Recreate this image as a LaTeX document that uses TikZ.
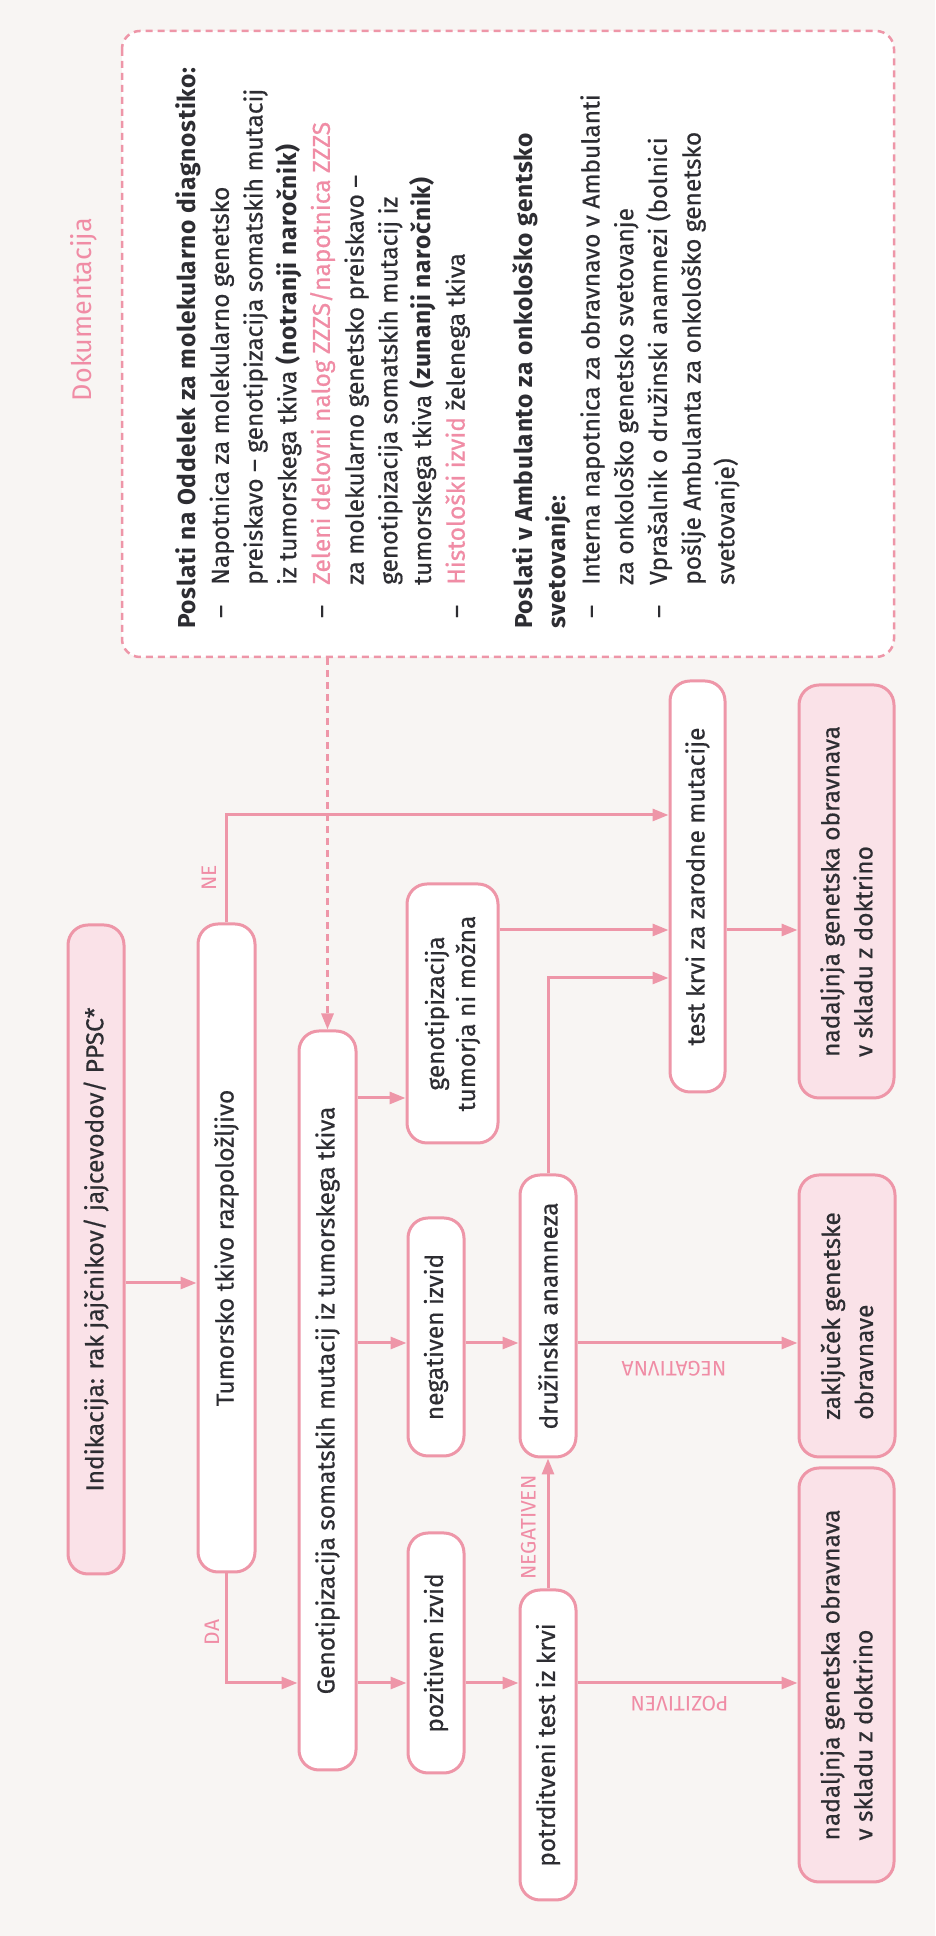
\documentclass[tikz,border=0pt]{standalone}
\usepackage{fontspec}
\setmainfont{Fira Sans}[UprightFeatures={FakeBold=0.6},
    BoldFeatures={LetterSpace=3}]
\newfontfamily\tanka{Fira Sans}
\usepackage{tikz}
\usetikzlibrary{calc,arrows.meta}

\definecolor{rozalinija}{RGB}{238,150,168}
\definecolor{rozapolnilo}{RGB}{250,226,232}
\definecolor{ozadje}{RGB}{248,245,243}
\definecolor{temno}{RGB}{45,45,50}
\definecolor{rozabesedilo}{RGB}{240,140,165}

\newcommand{\crtica}{\makebox[44pt][l]{\hspace*{11pt}--}}
\newcommand{\zamik}{\hspace*{44pt}}

\begin{document}
\begin{tikzpicture}[x=1pt, y=-1pt, rotate=90, transform shape,
        box/.style={draw=rozalinija, line width=\linethick, fill=white,
            rounded corners=20pt, inner sep=0pt, align=center, text=temno,
            font=\fontsize{24.5}{31}\selectfont},
        endbox/.style={box, fill=rozapolnilo, align=left,
            font=\fontsize{24.5}{33}\selectfont},
        docbox/.style={draw=rozalinija, line width=2.5pt, fill=white,
            dash pattern=on 7pt off 5pt, rounded corners=18pt},
        arr/.style={draw=rozalinija, line width=\linethick,
            -{Triangle[length=16pt, width=12pt]}},
        lbl/.style={text=rozabesedilo, inner sep=0pt,
            font=\tanka\fontsize{21}{21}\selectfont}]

        \def\linethick{3pt}

        \fill[ozadje] (0,0) rectangle (1936,935);
        \useasboundingbox (0,0) rectangle (1936,935);

        % levels of the connectors
        \coordinate (lInd) at (653, 0);
        \coordinate (lNe) at (1121, 0);
        \coordinate (lPoz) at (253, 0);
        \coordinate (lNeg) at (593, 0);
        \coordinate (lGen) at (838, 0);
        \coordinate (lKrvi) at (1006, 0);
        \coordinate (lDruz) at (958, 0);

        % flow boxes
        \node[box, fill=rozapolnilo, minimum width=649pt, minimum height=56pt] (ind) at (686.5, 96) {Indikacija: rak jajčnikov/ jajcevodov/ PPSC*};
        \node[box, minimum width=648pt, minimum height=57pt] (tum) at (688, 226.5) {Tumorsko tkivo razpoložljivo};
        \node[box, minimum width=739pt, minimum height=57pt] (gen) at (535.5, 327.5) {Genotipizacija somatskih mutacij iz tumorskega tkiva};
        \node[box, minimum width=240pt, minimum height=56pt] (poz) at (283, 436) {pozitiven izvid};
        \node[box, minimum width=238pt, minimum height=56pt] (neg) at (599, 436) {negativen izvid};
        \node[box, minimum width=259pt, minimum height=91pt] (nimozna) at (922.5, 452.5) {genotipizacija\\tumorja ni možna};
        \node[box, minimum width=310pt, minimum height=56pt] (potr) at (191, 548) {potrditveni test iz krvi};
        \node[box, minimum width=282pt, minimum height=56pt] (druz) at (620, 548) {družinska anamneza};
        \node[box, minimum width=411pt, minimum height=55pt] (krvi) at (1049.5, 697.5) {test krvi za zarodne mutacije};
        \node[endbox, minimum width=414pt, minimum height=95pt] (nad1) at (261, 846.5) {nadaljnja genetska obravnava\\v skladu z doktrino};
        \node[endbox, minimum width=282pt, minimum height=96pt] (zakl) at (620, 847) {zaključek genetske\\obravnave};
        \node[endbox, minimum width=413pt, minimum height=95pt] (nad2) at (1044.5, 846.5) {nadaljnja genetska obravnava\\v skladu z doktrino};

        % documentation
        \node[text=rozabesedilo, font=\tanka\fontsize{27}{27}\selectfont] (dokum) at (1626.5, 83.5) {Dokumentacija};
        \node[docbox, minimum width=626pt, minimum height=772pt] (doc) at (1592, 508) {};
        \node[anchor=north west, align=left, inner sep=0pt, text=temno,
            font=\fontsize{24.5}{33.7}\selectfont] (doctxt) at (1307, 175) {%
            \textbf{Poslati na Oddelek za molekularno diagnostiko:}\\
            \crtica Napotnica za molekularno genetsko\\
            \zamik preiskavo -- genotipizacija somatskih mutacij\\
            \zamik iz tumorskega tkiva \textbf{(notranji naročnik)}\\
            \crtica \textcolor{rozabesedilo}{Zeleni delovni nalog ZZZS/napotnica ZZZS}\\
            \zamik za molekularno genetsko preiskavo --\\
            \zamik genotipizacija somatskih mutacij iz\\
            \zamik tumorskega tkiva \textbf{(zunanji naročnik)}\\
            \crtica \textcolor{rozabesedilo}{Histološki izvid} želenega tkiva\\[33.7pt]
            \textbf{Poslati v Ambulanto za onkološko gentsko}\\
            \textbf{svetovanje:}\\
            \crtica Interna napotnica za obravnavo v Ambulanti\\
            \zamik za onkološko genetsko svetovanje\\
            \crtica Vprašalnik o družinski anamnezi (bolnici\\
            \zamik pošlje Ambulanta za onkološko genetsko\\
            \zamik svetovanje)};

        % arrows
        \draw[arr] (lInd |- ind.south) -- (lInd |- tum.north);
        \draw[arr] (tum.east) -- (lNe |- tum.east) -- (lNe |- krvi.north);
        \draw[arr] (tum.west) -- (lPoz |- tum.west) -- (lPoz |- gen.north);
        \draw[arr, dash pattern=on 7pt off 5pt] (doc.west |- gen.east) -- (gen.east);

        \draw[arr] (lPoz |- gen.south) -- (lPoz |- poz.north);
        \draw[arr] (lPoz |- poz.south) -- (lPoz |- potr.north);
        \draw[arr] (lPoz |- potr.south) -- (lPoz |- nad1.north);

        \draw[arr] (lNeg |- gen.south) -- (lNeg |- neg.north);
        \draw[arr] (lNeg |- neg.south) -- (lNeg |- druz.north);
        \draw[arr] (lNeg |- druz.south) -- (lNeg |- zakl.north);

        \draw[arr] (potr.east) -- (druz.west);
        \draw[arr] (lGen |- gen.south) -- (lGen |- nimozna.north);
        \draw[arr] (lKrvi |- nimozna.south) -- (lKrvi |- krvi.north);
        \draw[arr] (druz.east) -- (lDruz |- druz.east) -- (lDruz |- krvi.north);
        \draw[arr] (lKrvi |- krvi.south) -- (lKrvi |- nad2.north);

        % labels
        \node[lbl] (ne) at (1058, 209) {NE};
        \node[lbl] (da) at (303.5, 212) {DA};
        \node[lbl] (negativen) at (408.5, 528.5) {NEGATIVEN};
        \node[lbl, rotate=90] (pozitiven) at (232.5, 679.5) {POZITIVEN};
        \node[lbl, rotate=90] (negativna) at (567.5, 674) {NEGATIVNA};

    \end{tikzpicture}
\end{document}
